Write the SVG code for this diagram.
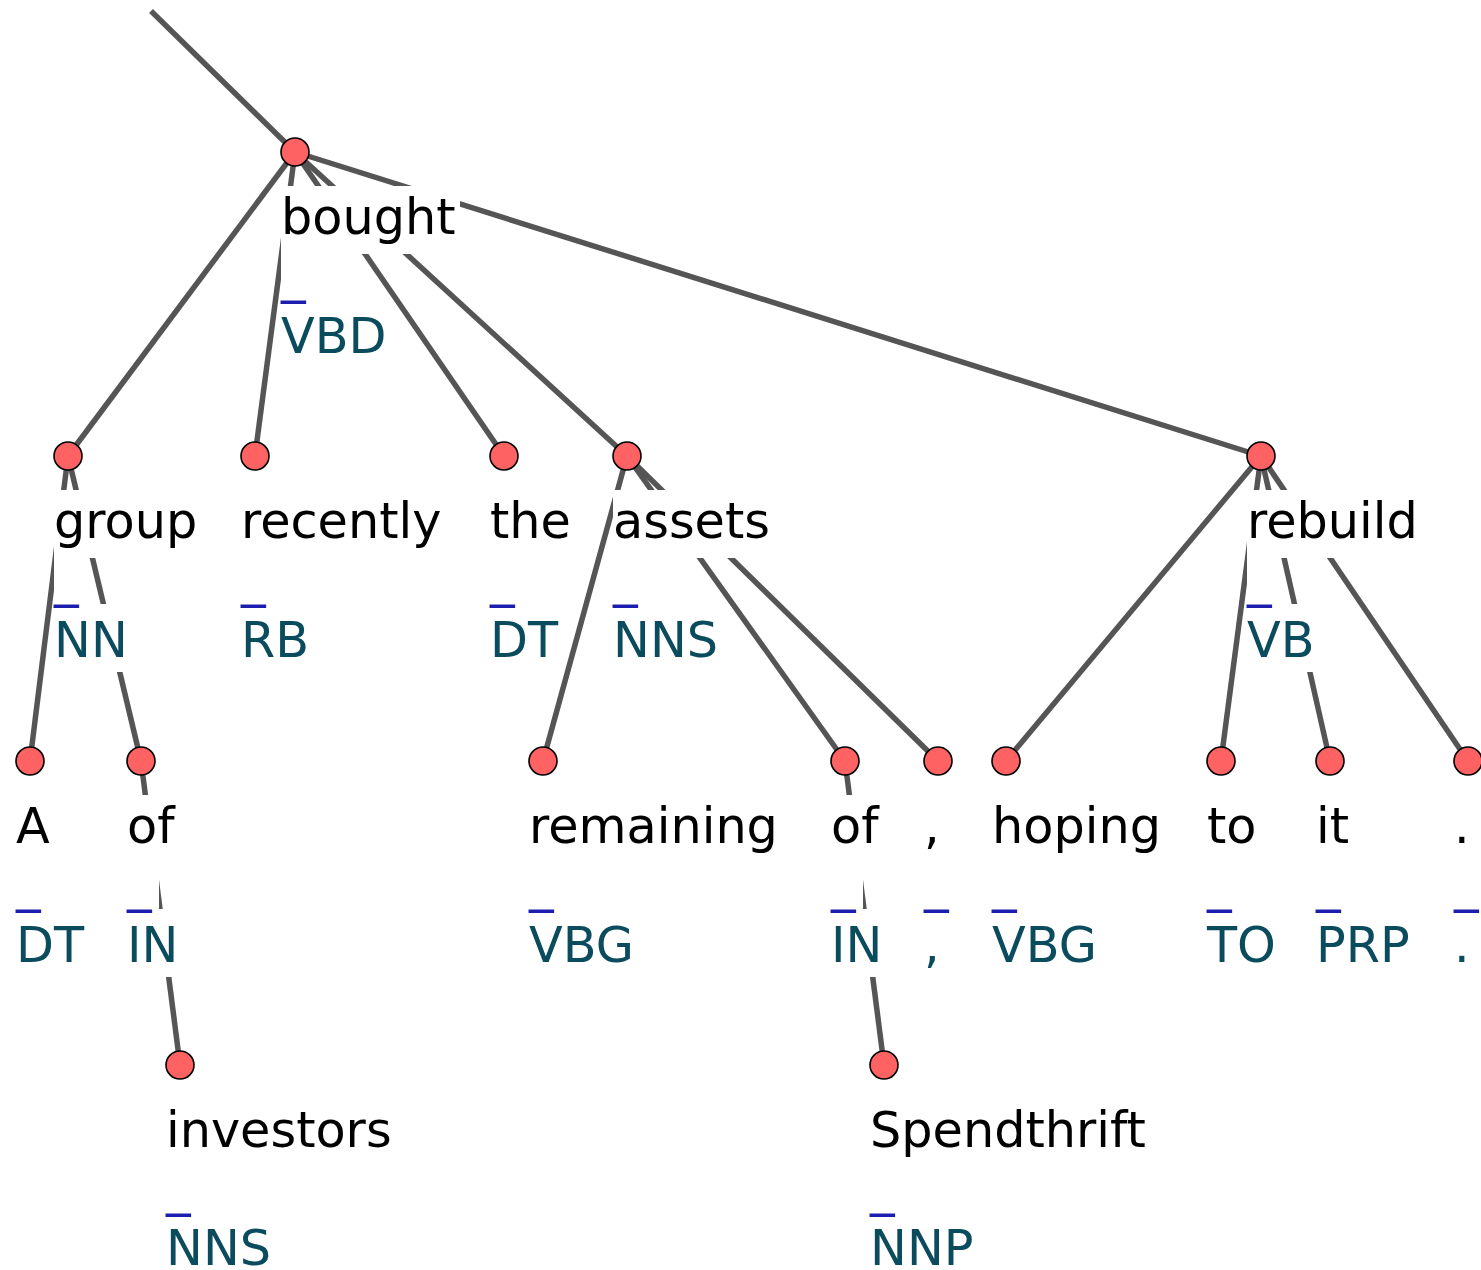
<svg xmlns="http://www.w3.org/2000/svg" width="1481" height="1270" viewBox="0 0 1481 1270">
  <style>
    .edge { stroke: #555555; stroke-width: 5.5; fill: none; stroke-linecap: butt; }
    .dot { fill: #ff6262; stroke: #000000; stroke-width: 1.6; }
    .mask { fill: #ffffff; stroke: none; }
    .word { font-family: "DejaVu Sans", "Noto Sans", sans-serif; font-size: 49.3px; fill: #000000; }
    .tag { font-family: "DejaVu Sans", "Noto Sans", sans-serif; font-size: 49.3px; fill: #0b4b5e; }
    .bar { font-family: "DejaVu Sans", "Noto Sans", sans-serif; font-size: 49.3px; fill: #1c1cae; }
  </style>
  <rect width="1481" height="1270" fill="#ffffff"/>

  <!-- dependency arcs, parent centre to child centre -->
  <g id="connectors">
    <line class="edge" x1="151" y1="11" x2="295" y2="152"/>
    <line class="edge" x1="295" y1="152" x2="68" y2="456"/>
    <line class="edge" x1="295" y1="152" x2="255" y2="456"/>
    <line class="edge" x1="295" y1="152" x2="504" y2="456"/>
    <line class="edge" x1="295" y1="152" x2="627" y2="456"/>
    <line class="edge" x1="295" y1="152" x2="1261" y2="456"/>
    <line class="edge" x1="68" y1="456" x2="30" y2="761"/>
    <line class="edge" x1="68" y1="456" x2="141" y2="761"/>
    <line class="edge" x1="141" y1="761" x2="180" y2="1065"/>
    <line class="edge" x1="627" y1="456" x2="543" y2="761"/>
    <line class="edge" x1="627" y1="456" x2="845" y2="761"/>
    <line class="edge" x1="627" y1="456" x2="938" y2="761"/>
    <line class="edge" x1="845" y1="761" x2="884" y2="1065"/>
    <line class="edge" x1="1261" y1="456" x2="1006" y2="761"/>
    <line class="edge" x1="1261" y1="456" x2="1221" y2="761"/>
    <line class="edge" x1="1261" y1="456" x2="1330" y2="761"/>
    <line class="edge" x1="1261" y1="456" x2="1468" y2="761"/>
  </g>

  <!-- each token: white label boxes, the vertex, word, underscore and POS tag -->
  <g id="n-bought" transform="translate(295,152)">
    <rect class="mask" x="-14" y="34" width="179" height="68"/>
    <rect class="mask" x="-14" y="102" width="32" height="46"/>
    <rect class="mask" x="-14" y="148" width="110" height="68"/>
    <circle class="dot" r="14"/>
    <text class="word" x="-14" y="82">bought</text>
    <text class="bar" x="-14" y="140">_</text>
    <text class="tag" x="-14" y="201">VBD</text>
  </g>

  <g id="n-group" transform="translate(68,456)">
    <rect class="mask" x="-14" y="34" width="148" height="68"/>
    <rect class="mask" x="-14" y="102" width="32" height="46"/>
    <rect class="mask" x="-14" y="148" width="78" height="68"/>
    <circle class="dot" r="14"/>
    <text class="word" x="-14" y="82">group</text>
    <text class="bar" x="-14" y="140">_</text>
    <text class="tag" x="-14" y="201">NN</text>
  </g>

  <g id="n-recently" transform="translate(255,456)">
    <rect class="mask" x="-14" y="34" width="205" height="68"/>
    <rect class="mask" x="-14" y="102" width="32" height="46"/>
    <rect class="mask" x="-14" y="148" width="72" height="68"/>
    <circle class="dot" r="14"/>
    <text class="word" x="-14" y="82">recently</text>
    <text class="bar" x="-14" y="140">_</text>
    <text class="tag" x="-14" y="201">RB</text>
  </g>

  <g id="n-the" transform="translate(504,456)">
    <rect class="mask" x="-14" y="34" width="85" height="68"/>
    <rect class="mask" x="-14" y="102" width="32" height="46"/>
    <rect class="mask" x="-14" y="148" width="72" height="68"/>
    <circle class="dot" r="14"/>
    <text class="word" x="-14" y="82">the</text>
    <text class="bar" x="-14" y="140">_</text>
    <text class="tag" x="-14" y="201">DT</text>
  </g>

  <g id="n-assets" transform="translate(627,456)">
    <rect class="mask" x="-14" y="34" width="160" height="68"/>
    <rect class="mask" x="-14" y="102" width="32" height="46"/>
    <rect class="mask" x="-14" y="148" width="109" height="68"/>
    <circle class="dot" r="14"/>
    <text class="word" x="-14" y="82">assets</text>
    <text class="bar" x="-14" y="140">_</text>
    <text class="tag" x="-14" y="201">NNS</text>
  </g>

  <g id="n-rebuild" transform="translate(1261,456)">
    <rect class="mask" x="-14" y="34" width="176" height="68"/>
    <rect class="mask" x="-14" y="102" width="32" height="46"/>
    <rect class="mask" x="-14" y="148" width="71" height="68"/>
    <circle class="dot" r="14"/>
    <text class="word" x="-14" y="82">rebuild</text>
    <text class="bar" x="-14" y="140">_</text>
    <text class="tag" x="-14" y="201">VB</text>
  </g>

  <g id="n-A" transform="translate(30,761)">
    <rect class="mask" x="-14" y="34" width="38" height="68"/>
    <rect class="mask" x="-14" y="102" width="32" height="46"/>
    <rect class="mask" x="-14" y="148" width="72" height="68"/>
    <circle class="dot" r="14"/>
    <text class="word" x="-14" y="82">A</text>
    <text class="bar" x="-14" y="140">_</text>
    <text class="tag" x="-14" y="201">DT</text>
  </g>

  <g id="n-of-1" transform="translate(141,761)">
    <rect class="mask" x="-14" y="34" width="52" height="68"/>
    <rect class="mask" x="-14" y="102" width="32" height="46"/>
    <rect class="mask" x="-14" y="148" width="56" height="68"/>
    <circle class="dot" r="14"/>
    <text class="word" x="-14" y="82">of</text>
    <text class="bar" x="-14" y="140">_</text>
    <text class="tag" x="-14" y="201">IN</text>
  </g>

  <g id="n-remaining" transform="translate(543,761)">
    <rect class="mask" x="-14" y="34" width="254" height="68"/>
    <rect class="mask" x="-14" y="102" width="32" height="46"/>
    <rect class="mask" x="-14" y="148" width="110" height="68"/>
    <circle class="dot" r="14"/>
    <text class="word" x="-14" y="82">remaining</text>
    <text class="bar" x="-14" y="140">_</text>
    <text class="tag" x="-14" y="201">VBG</text>
  </g>

  <g id="n-of-2" transform="translate(845,761)">
    <rect class="mask" x="-14" y="34" width="52" height="68"/>
    <rect class="mask" x="-14" y="102" width="32" height="46"/>
    <rect class="mask" x="-14" y="148" width="56" height="68"/>
    <circle class="dot" r="14"/>
    <text class="word" x="-14" y="82">of</text>
    <text class="bar" x="-14" y="140">_</text>
    <text class="tag" x="-14" y="201">IN</text>
  </g>

  <g id="n-comma" transform="translate(938,761)">
    <rect class="mask" x="-14" y="34" width="20" height="68"/>
    <rect class="mask" x="-14" y="102" width="32" height="46"/>
    <rect class="mask" x="-14" y="148" width="20" height="68"/>
    <circle class="dot" r="14"/>
    <text class="word" x="-14" y="82">,</text>
    <text class="bar" x="-14" y="140">_</text>
    <text class="tag" x="-14" y="201">,</text>
  </g>

  <g id="n-hoping" transform="translate(1006,761)">
    <rect class="mask" x="-14" y="34" width="173" height="68"/>
    <rect class="mask" x="-14" y="102" width="32" height="46"/>
    <rect class="mask" x="-14" y="148" width="110" height="68"/>
    <circle class="dot" r="14"/>
    <text class="word" x="-14" y="82">hoping</text>
    <text class="bar" x="-14" y="140">_</text>
    <text class="tag" x="-14" y="201">VBG</text>
  </g>

  <g id="n-to" transform="translate(1221,761)">
    <rect class="mask" x="-14" y="34" width="54" height="68"/>
    <rect class="mask" x="-14" y="102" width="32" height="46"/>
    <rect class="mask" x="-14" y="148" width="73" height="68"/>
    <circle class="dot" r="14"/>
    <text class="word" x="-14" y="82">to</text>
    <text class="bar" x="-14" y="140">_</text>
    <text class="tag" x="-14" y="201">TO</text>
  </g>

  <g id="n-it" transform="translate(1330,761)">
    <rect class="mask" x="-14" y="34" width="38" height="68"/>
    <rect class="mask" x="-14" y="102" width="32" height="46"/>
    <rect class="mask" x="-14" y="148" width="98" height="68"/>
    <circle class="dot" r="14"/>
    <text class="word" x="-14" y="82">it</text>
    <text class="bar" x="-14" y="140">_</text>
    <text class="tag" x="-14" y="201">PRP</text>
  </g>

  <g id="n-period" transform="translate(1468,761)">
    <rect class="mask" x="-14" y="34" width="20" height="68"/>
    <rect class="mask" x="-14" y="102" width="32" height="46"/>
    <rect class="mask" x="-14" y="148" width="20" height="68"/>
    <circle class="dot" r="14"/>
    <text class="word" x="-14" y="82">.</text>
    <text class="bar" x="-14" y="140">_</text>
    <text class="tag" x="-14" y="201">.</text>
  </g>

  <g id="n-investors" transform="translate(180,1065)">
    <rect class="mask" x="-14" y="34" width="230" height="68"/>
    <rect class="mask" x="-14" y="102" width="32" height="46"/>
    <rect class="mask" x="-14" y="148" width="109" height="68"/>
    <circle class="dot" r="14"/>
    <text class="word" x="-14" y="82">investors</text>
    <text class="bar" x="-14" y="140">_</text>
    <text class="tag" x="-14" y="200">NNS</text>
  </g>

  <g id="n-Spendthrift" transform="translate(884,1065)">
    <rect class="mask" x="-14" y="34" width="281" height="68"/>
    <rect class="mask" x="-14" y="102" width="32" height="46"/>
    <rect class="mask" x="-14" y="148" width="108" height="68"/>
    <circle class="dot" r="14"/>
    <text class="word" x="-14" y="82">Spendthrift</text>
    <text class="bar" x="-14" y="140">_</text>
    <text class="tag" x="-14" y="200">NNP</text>
  </g>
</svg>
